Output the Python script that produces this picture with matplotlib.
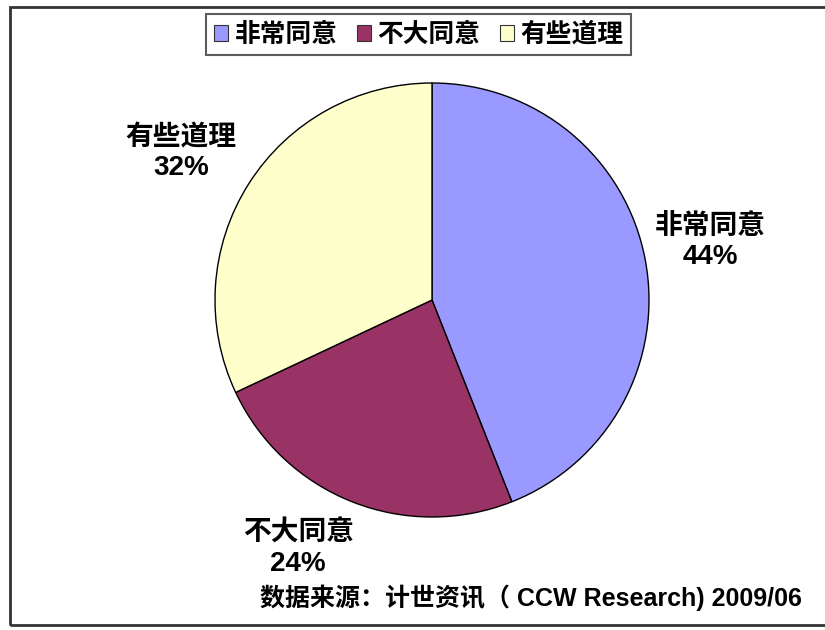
import matplotlib
matplotlib.use("Agg")
import matplotlib.pyplot as plt
import numpy as np
from matplotlib.patches import Rectangle

categories = ["非常同意", "不大同意", "有些道理"]
values = [44, 24, 32]
colors = ["#9999FF", "#993366", "#FFFFCC"]
source = "数据来源：计世资讯（ CCW Research) 2009/06"

fam = ["Liberation Sans", "Noto Sans CJK SC", "DejaVu Sans"]
plt.rcParams["font.family"] = fam

W, H = 825, 630
fig = plt.figure(figsize=(W / 100, H / 100), dpi=100)
fig.patch.set_facecolor("white")

# outer frame
fig.patches.append(Rectangle((10 / W, (H - 625) / H), (W + 5 - 10) / W, (625 - 7) / H,
                             transform=fig.transFigure, fill=False, edgecolor="#333333",
                             linewidth=2, zorder=0))

cx, cy, r = 432, 300, 217
ax = fig.add_axes([(cx - r) / W, (H - cy - r) / H, 2 * r / W, 2 * r / H])
wedges, _ = ax.pie(values, colors=colors, startangle=90, counterclock=False,
                   radius=1, wedgeprops=dict(edgecolor="black", linewidth=1))
ax.set_xlim(-1, 1)
ax.set_ylim(-1, 1)
ax.axis("off")

# label placement (distance, angle offset)
lab_dist = [1.31, 1.30, 1.34]
lab_off = [1.0, -6.7, 2.1]
for w, cat, v, d, off in zip(wedges, categories, values, lab_dist, lab_off):
    mid = np.deg2rad((w.theta1 + w.theta2) / 2 + off)
    ax.text(d * np.cos(mid), d * np.sin(mid), f"{cat}\n{v}%", ha="center", va="center",
            fontsize=20, fontweight="bold", linespacing=1.2, clip_on=False)

leg = fig.legend(wedges, categories, loc="center", bbox_to_anchor=(418.5 / W, 1 - 34.5 / H),
                 ncol=3, frameon=True, fancybox=False, edgecolor="#333333",
                 prop=dict(family=fam, size=18.5, weight="bold"),
                 handlelength=0.55, handleheight=0.55, handletextpad=0.25, columnspacing=0.75,
                 borderpad=0.3, borderaxespad=0)
leg.get_frame().set_linewidth(1.5)
for h in leg.legend_handles:
    h.set_edgecolor("#333333")
    h.set_linewidth(0.8)

fig.text(802 / W, 1 - 598 / H, source, ha="right", va="center", fontsize=18,
         fontweight="bold")

fig.savefig("out.png", dpi=100)
